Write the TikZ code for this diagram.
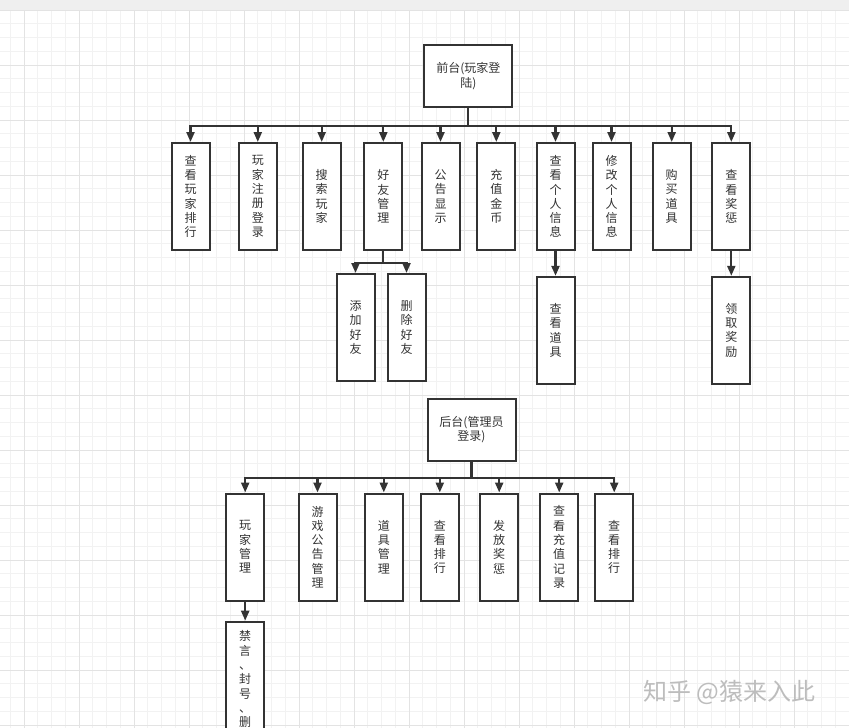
\documentclass[tikz,border=0pt]{standalone}
\usepackage{fontspec}
\setmainfont{Noto Sans CJK SC}
\usepackage{xcolor}
\usepackage{tikz}
\usetikzlibrary{arrows.meta}

\definecolor{linegray}{HTML}{333333}
\definecolor{gridminor}{HTML}{F2F2F2}
\definecolor{gridmajor}{HTML}{E3E3E3}
\definecolor{topband}{HTML}{EFEFEF}
\definecolor{markgray}{HTML}{BDBDBD}

\begin{document}
\begin{tikzpicture}[x=1pt,y=-1pt,
    box/.style={draw=linegray, line width=2pt, fill=white, text=linegray,
      inner sep=0pt, minimum width=38pt, minimum height=107pt, align=center,
      font=\fontsize{12}{14.3}\selectfont},
    rootbox/.style={box, minimum width=88pt, minimum height=62pt,
      font=\fontsize{12}{14.5}\selectfont},
    link/.style={draw=linegray, line width=2.2pt, -{Triangle[length=10pt,width=8pt]}}]
    \useasboundingbox (0,0) rectangle (849,728);

    % background grid
    \fill[white] (0,0) rectangle (849,728);
    \foreach \i in {0,...,61}
        \draw[gridminor, line width=0.8pt] ({10.25+13.75*\i},10) -- ({10.25+13.75*\i},728);
    \foreach \j in {0,...,52}
        \draw[gridminor, line width=0.8pt] (0,{10+13.75*\j}) -- (849,{10+13.75*\j});
    \foreach \i in {0,...,15}
        \draw[gridmajor, line width=0.9pt] ({24+55*\i},10) -- ({24+55*\i},728);
    \foreach \j in {0,...,13}
        \draw[gridmajor, line width=0.9pt] (0,{10+55*\j}) -- (849,{10+55*\j});
    \fill[topband] (0,0) rectangle (849,10);

    % front end
    \node[rootbox] (front) at (468.3,76) {前台(玩家登\\陆)};

    \foreach \name/\x/\txt in {
        f1/190.5/{查\\看\\玩\\家\\排\\行},
        f2/257.8/{玩\\家\\注\\册\\登\\录},
        f3/321.7/{搜\\索\\玩\\家},
        f4/383.3/{好\\友\\管\\理},
        f5/440.5/{公\\告\\显\\示},
        f6/496.3/{充\\值\\金\\币},
        f7/555.5/{查\\看\\个\\人\\信\\息},
        f8/611.5/{修\\改\\个\\人\\信\\息},
        f9/671.7/{购\\买\\道\\具},
        f10/731.3/{查\\看\\奖\\惩}}
        \node[box] (\name) at (\x,196.5) {\txt};

    \foreach \name in {f1,f2,f3,f4,f5,f6,f7,f8,f9,f10}
        \draw[link] (front.south) -- ++(0,18) -| (\name.north);

    \node[box] (addfriend) at (355.5,327.5) {添\\加\\好\\友};
    \node[box] (delfriend) at (406.5,327.5) {删\\除\\好\\友};
    \node[box] (viewitem) at (555.5,330.3) {查\\看\\道\\具};
    \node[box] (getreward) at (731.3,330.3) {领\\取\\奖\\励};

    \draw[link] (f4.south) -- ++(0,12) -| (addfriend.north);
    \draw[link] (f4.south) -- ++(0,12) -| (delfriend.north);
    \draw[link] (f7) -- (viewitem);
    \draw[link] (f10) -- (getreward);

    % back end
    \node[rootbox] (back) at (471.5,429.5) {后台(管理员\\登录)};

    \foreach \name/\x/\txt in {
        b1/245.2/{玩\\家\\管\\理},
        b2/317.5/{游\\戏\\公\\告\\管\\理},
        b3/383.8/{道\\具\\管\\理},
        b4/439.8/{查\\看\\排\\行},
        b5/499.2/{发\\放\\奖\\惩},
        b6/559.2/{查\\看\\充\\值\\记\\录},
        b7/614.2/{查\\看\\排\\行}}
        \node[box] (\name) at (\x,547) {\txt};

    \foreach \name in {b1,b2,b3,b4,b5,b6,b7}
        \draw[link] (back.south) -- ++(0,16.5) -| (\name.north);

    \node[box, anchor=north, minimum height=0pt, inner ysep=9pt, text depth=120pt]
        (ban) at (245.2,620.7) {禁\\言\\、\\封\\号\\、\\删};
    \draw[link] (b1) -- (ban);

    % watermark
    \node[text=markgray, anchor=west, font=\fontsize{24}{24}\selectfont] (mark) at (640,692) {知乎 @猿来入此};
\end{tikzpicture}
\end{document}
